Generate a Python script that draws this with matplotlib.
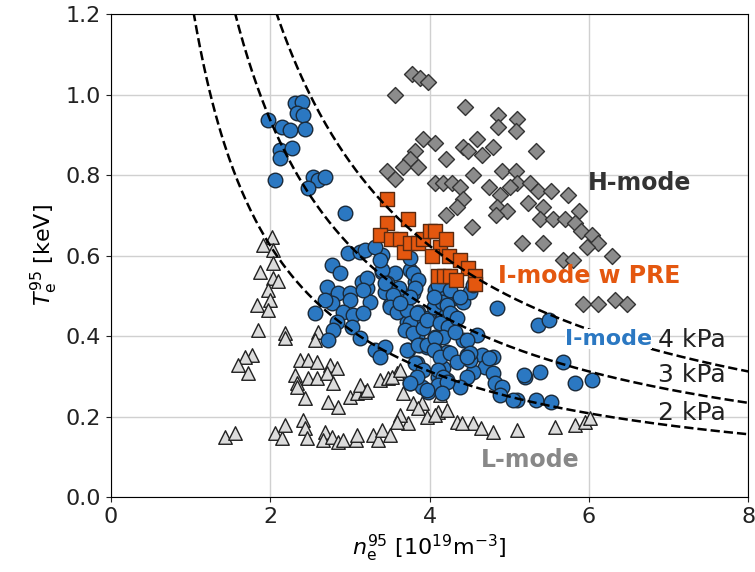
import matplotlib
matplotlib.use("Agg")
import matplotlib.pyplot as plt
import numpy as np

# L-mode (triangles)
l_n = [2.02, 1.91, 2.04, 2.04, 1.87, 2.04, 2.10, 1.97, 1.83, 2.00, 1.97, 1.85, 2.19, 2.19, 2.60, 2.56,
       1.77, 1.68, 1.60, 1.72, 2.37, 2.47, 2.59, 2.75, 2.84, 2.31, 2.47, 2.59, 2.71, 2.79, 2.34, 2.34,
       2.44, 2.73, 2.85, 3.00, 3.09, 3.19, 3.38, 3.48, 3.59, 3.13, 3.22, 3.53, 3.63, 3.67, 3.79, 3.91,
       4.13, 4.10, 4.22, 4.35, 4.55, 3.86, 3.97, 4.07, 3.73, 3.63, 3.59, 1.43, 1.56, 2.06, 2.15, 2.19,
       2.41, 2.44, 2.46, 2.69, 2.66, 2.78, 2.85, 2.91, 3.07, 3.09, 3.29, 3.35, 3.40, 3.50, 4.41, 4.64,
       4.79, 5.10, 5.58, 5.83, 5.95, 6.02]
l_T = [0.646, 0.626, 0.614, 0.581, 0.559, 0.544, 0.537, 0.514, 0.477, 0.489, 0.465, 0.415, 0.407, 0.395, 0.410, 0.390,
       0.353, 0.348, 0.328, 0.308, 0.340, 0.340, 0.335, 0.328, 0.320, 0.303, 0.296, 0.296, 0.308, 0.283, 0.283, 0.273,
       0.246, 0.236, 0.224, 0.248, 0.258, 0.261, 0.291, 0.296, 0.308, 0.278, 0.266, 0.298, 0.316, 0.258, 0.234, 0.234,
       0.253, 0.211, 0.216, 0.186, 0.184, 0.221, 0.199, 0.204, 0.184, 0.204, 0.186, 0.149, 0.159, 0.159, 0.147, 0.179,
       0.191, 0.171, 0.147, 0.161, 0.142, 0.149, 0.137, 0.142, 0.142, 0.154, 0.154, 0.142, 0.166, 0.154, 0.184, 0.171,
       0.161, 0.166, 0.174, 0.179, 0.186, 0.196]

# I-mode (circles)
i_n = [1.97, 2.31, 2.40, 2.34, 2.41, 2.15, 2.25, 2.44, 2.12, 2.27, 2.12, 2.06, 2.53, 2.60, 2.69, 2.47,
       2.94, 2.98, 3.13, 3.19, 2.78, 2.88, 3.40, 3.40, 3.57, 3.47, 3.44, 2.71, 2.85, 3.00, 3.15, 3.22,
       3.25, 3.00, 2.78, 2.69, 2.56, 2.91, 3.04, 3.17, 2.84, 3.03, 2.79, 2.73, 3.13, 3.32, 3.44, 3.38,
       3.76, 3.82, 3.79, 3.69, 3.86, 3.72, 3.82, 3.84, 3.73, 3.88, 3.84, 3.76, 3.91, 3.50, 3.61, 4.07,
       4.20, 4.30, 4.42, 4.51, 4.55, 4.10, 4.22, 4.17, 3.98, 4.28, 4.85, 5.36, 5.50, 4.07, 4.28, 4.42,
       4.60, 3.97, 4.07, 4.22, 4.47, 4.66, 4.79, 4.70, 4.55, 4.51, 4.17, 4.10, 4.22, 3.98, 4.13, 4.47,
       4.79, 4.82, 4.91, 4.89, 5.10, 5.20, 5.39, 5.33, 5.52, 5.67, 5.83, 6.04, 4.38,
       3.22, 3.17, 3.40, 3.44, 3.54, 3.50, 3.59, 3.72, 3.76, 3.84, 3.69, 3.79, 3.92, 3.97, 4.05, 4.16,
       4.22, 4.26, 4.13, 4.23, 4.17, 4.35, 4.32, 4.47, 4.51, 3.72, 3.86, 3.97, 4.07, 4.05, 4.13, 4.26,
       4.35, 4.47, 4.74, 3.82, 3.92, 3.84, 4.10, 4.17, 4.10, 4.22, 3.97, 3.76, 4.16, 5.05, 5.18, 3.32,
       3.38, 3.76, 3.79, 3.86, 3.82, 3.76, 3.63, 4.10, 4.05, 4.26, 4.38]
i_T = [0.937, 0.979, 0.981, 0.954, 0.949, 0.919, 0.912, 0.914, 0.862, 0.867, 0.842, 0.788, 0.795, 0.788, 0.795, 0.768,
       0.706, 0.606, 0.609, 0.614, 0.576, 0.557, 0.601, 0.559, 0.557, 0.532, 0.509, 0.522, 0.507, 0.507, 0.534, 0.519,
       0.484, 0.489, 0.482, 0.489, 0.457, 0.460, 0.452, 0.457, 0.435, 0.422, 0.415, 0.390, 0.395, 0.365, 0.373, 0.348,
       0.564, 0.534, 0.507, 0.465, 0.460, 0.435, 0.435, 0.398, 0.365, 0.378, 0.333, 0.283, 0.273, 0.477, 0.519, 0.514,
       0.507, 0.494, 0.484, 0.509, 0.527, 0.477, 0.482, 0.447, 0.445, 0.452, 0.470, 0.427, 0.440, 0.398, 0.415, 0.390,
       0.402, 0.373, 0.365, 0.360, 0.353, 0.353, 0.348, 0.323, 0.311, 0.340, 0.320, 0.298, 0.291, 0.261, 0.271, 0.298,
       0.308, 0.283, 0.273, 0.253, 0.241, 0.298, 0.311, 0.241, 0.236, 0.335, 0.283, 0.291, 0.273,
       0.544, 0.514, 0.564, 0.532, 0.502, 0.472, 0.460, 0.465, 0.432, 0.457, 0.415, 0.407, 0.420, 0.440, 0.472, 0.484,
       0.477, 0.457, 0.432, 0.422, 0.398, 0.445, 0.410, 0.390, 0.358, 0.365, 0.378, 0.378, 0.395, 0.365, 0.348, 0.358,
       0.335, 0.348, 0.345, 0.333, 0.316, 0.298, 0.316, 0.298, 0.278, 0.286, 0.266, 0.283, 0.258, 0.241, 0.303, 0.621,
       0.589, 0.594, 0.557, 0.539, 0.519, 0.497, 0.482, 0.527, 0.497, 0.514, 0.497]

# I-mode with PRE (squares)
p_n = [3.46, 3.73, 3.46, 3.38, 3.52, 3.63, 3.68, 3.76, 3.86, 3.92, 4.00, 4.07, 4.13, 4.20, 4.24, 4.38,
       4.48, 4.57, 4.11, 4.18, 4.26, 4.33, 4.57, 4.03]
p_T = [0.74, 0.69, 0.68, 0.65, 0.64, 0.64, 0.61, 0.63, 0.63, 0.64, 0.66, 0.66, 0.62, 0.64, 0.60, 0.59,
       0.57, 0.55, 0.55, 0.55, 0.55, 0.54, 0.53, 0.60]

# H-mode (diamonds)
h_n = [3.57, 3.78, 3.88, 3.98, 4.45, 4.86, 5.10, 4.86, 5.08, 3.92, 4.07, 4.60, 4.42, 4.80, 5.33, 3.82,
       3.75, 4.48, 4.66, 4.20, 3.66, 3.86, 3.47, 3.57, 4.55, 4.91, 5.08, 4.07, 4.17, 4.28, 4.38, 4.74,
       5.10, 5.26, 5.36, 5.52, 5.74, 5.01, 4.88, 4.42, 4.35, 4.85, 4.97, 4.83, 5.24, 5.43, 5.39, 5.55,
       5.70, 5.87, 5.83, 5.90, 6.04, 6.12, 5.98, 4.53, 4.20, 5.16, 5.43, 5.68, 5.80, 6.29, 5.93, 6.12,
       6.33, 6.48]
h_T = [1.00, 1.05, 1.04, 1.03, 0.97, 0.95, 0.94, 0.92, 0.91, 0.89, 0.88, 0.89, 0.87, 0.87, 0.86, 0.86,
       0.84, 0.86, 0.85, 0.84, 0.82, 0.82, 0.81, 0.79, 0.80, 0.81, 0.81, 0.78, 0.78, 0.78, 0.77, 0.77,
       0.78, 0.78, 0.76, 0.76, 0.75, 0.77, 0.75, 0.74, 0.72, 0.72, 0.71, 0.70, 0.73, 0.72, 0.69, 0.69,
       0.69, 0.71, 0.68, 0.66, 0.65, 0.63, 0.62, 0.67, 0.70, 0.63, 0.63, 0.59, 0.59, 0.60, 0.48, 0.48,
       0.49, 0.48]

# isobars
pressures = [2, 3, 4]
p_labels = ["2 kPa", "3 kPa", "4 kPa"]
p_label_T = [0.21, 0.303, 0.39]

fig, ax = plt.subplots(figsize=(7.55, 5.72), dpi=100)
fig.subplots_adjust(left=0.147, right=0.991, bottom=0.131, top=0.9755)

ax.scatter(l_n, l_T, marker="^", s=95, c="#dcdcdc", edgecolors="#222222", linewidths=1.0, zorder=2)
ax.scatter(h_n, h_T, marker="D", s=66, c="#8c8c8c", edgecolors="#333333", linewidths=1.0, zorder=2)
ax.scatter(i_n, i_T, marker="o", s=110, c="#2b78c2", edgecolors="#1a2a3a", linewidths=1.0, zorder=3)
ax.scatter(p_n, p_T, marker="s", s=95, c="#e4570f", edgecolors="#5a2a10", linewidths=1.0, zorder=4)

n = np.linspace(0.5, 8, 400)
for p in pressures:
    ax.plot(n, p / (1.602 * n), "k--", lw=1.8, zorder=5)

for lab, t in zip(p_labels, p_label_T):
    ax.text(6.87, t, lab, fontsize=18, ha="left", va="center", color="#222222", zorder=6)

ax.text(5.99, 0.78, "H-mode", fontsize=17, fontweight="bold", color="#333333", ha="left", va="center", zorder=6)
ax.text(4.86, 0.55, "I-mode w PRE", fontsize=17, fontweight="bold", color="#e4570f", ha="left", va="center", zorder=6)
ax.text(5.7, 0.392, "I-mode", fontsize=16, fontweight="bold", color="#2b78c2", ha="left", va="center", zorder=6,
        bbox=dict(facecolor="white", edgecolor="none", pad=0))
ax.text(5.26, 0.092, "L-mode", fontsize=17, fontweight="bold", color="#888888", ha="center", va="center", zorder=6)

ax.set_xlim(0, 8)
ax.set_ylim(0, 1.2)
ax.set_xticks([0, 2, 4, 6, 8])
ax.set_yticks([0.0, 0.2, 0.4, 0.6, 0.8, 1.0, 1.2])
ax.set_yticklabels(["0.0", "0.2", "0.4", "0.6", "0.8", "1.0", "1.2"])
ax.tick_params(labelsize=16, colors="#222222")
ax.grid(True, color="#d0d0d0", lw=1)
ax.set_axisbelow(True)
ax.set_xlabel(r"$n_\mathrm{e}^{95}$ [10$^{19}$m$^{-3}$]", fontsize=16)
ax.set_ylabel(r"$T_\mathrm{e}^{95}$ [keV]", fontsize=16)

fig.savefig("out.png", dpi=100)
